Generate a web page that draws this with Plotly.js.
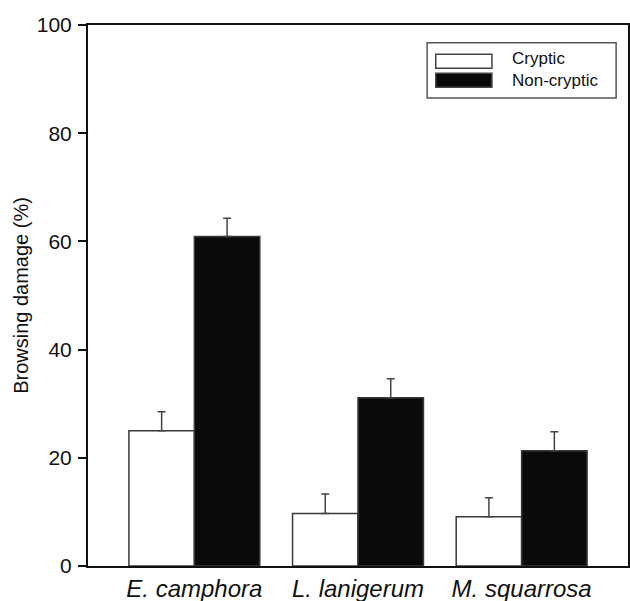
<!DOCTYPE html>
<html>
<head>
<meta charset="utf-8">
<script src="https://cdn.plot.ly/plotly-3.0.1.min.js"></script>
<style>html,body{margin:0;padding:0;background:#fff;}</style>
</head>
<body>
<div id="chart" style="width:630px;height:601px;"></div>
<script>
const species = ["E. camphora", "L. lanigerum", "M. squarrosa"];
const seriesNames = ["Cryptic", "Non-cryptic"];
const cryptic = [25.0, 9.7, 9.1];
const crypticErr = [3.5, 3.6, 3.5];
const nonCryptic = [60.9, 31.1, 21.3];
const nonCrypticErr = [3.4, 3.5, 3.5];
const yTicks = [0, 20, 40, 60, 80, 100];

const FONT = "Arial, 'Liberation Sans', sans-serif";
const zeros = [0, 0, 0];

const traces = [
  {
    type: "bar", name: seriesNames[0], x: species, y: cryptic,
    marker: {color: "#ffffff", line: {color: "#3a3a3a", width: 1.5}},
    error_y: {type: "data", symmetric: false, array: crypticErr, arrayminus: zeros,
              color: "#444", thickness: 1.5, width: 4},
    showlegend: false
  },
  {
    type: "bar", name: seriesNames[1], x: species, y: nonCryptic,
    marker: {color: "#0a0a0a", line: {color: "#3a3a3a", width: 1.5}},
    error_y: {type: "data", symmetric: false, array: nonCrypticErr, arrayminus: zeros,
              color: "#444", thickness: 1.5, width: 4},
    showlegend: false
  }
];

const legendShapes = [
  {type: "rect", xref: "paper", yref: "paper", x0: 0.628, x1: 0.978, y0: 0.865, y1: 0.967,
   line: {color: "#555", width: 1.5}, fillcolor: "rgba(0,0,0,0)"},
  {type: "rect", xref: "paper", yref: "paper", x0: 0.644, x1: 0.748, y0: 0.920, y1: 0.946,
   line: {color: "#444", width: 1.5}, fillcolor: "#ffffff"},
  {type: "rect", xref: "paper", yref: "paper", x0: 0.644, x1: 0.748, y0: 0.885, y1: 0.911,
   line: {color: "#444", width: 1.5}, fillcolor: "#0a0a0a"}
];
const legendTexts = [
  {xref: "paper", yref: "paper", x: 0.783, y: 0.9185, xanchor: "left", yanchor: "bottom",
   borderpad: 0, text: seriesNames[0], showarrow: false, font: {family: FONT, size: 17, color: "#111"}},
  {xref: "paper", yref: "paper", x: 0.783, y: 0.9165, xanchor: "left", yanchor: "top",
   borderpad: 0, text: seriesNames[1], showarrow: false, font: {family: FONT, size: 17, color: "#111"}}
];

const layout = {
  width: 630, height: 601,
  margin: {l: 88, r: 2, t: 25, b: 35, pad: 0},
  paper_bgcolor: "#ffffff", plot_bgcolor: "#ffffff",
  barmode: "group", bargap: 0.2, bargroupgap: 0,
  showlegend: false,
  font: {family: FONT, color: "#111"},
  xaxis: {
    type: "category", range: [-0.65, 2.65],
    showline: true, linecolor: "#111", linewidth: 2, mirror: true,
    ticks: "", showgrid: false, zeroline: false,
    tickfont: {family: FONT, size: 24, color: "#111", style: "italic"},
    ticklabelstandoff: 0
  },
  yaxis: {
    range: [0, 100], tickvals: yTicks,
    showline: true, linecolor: "#111", linewidth: 2, mirror: true,
    ticks: "outside", ticklen: 8, tickwidth: 2, tickcolor: "#111",
    showgrid: false, zeroline: false,
    tickfont: {family: FONT, size: 21, color: "#111"},
    ticklabelstandoff: 2,
    title: {text: "Browsing damage (%)", font: {family: FONT, size: 20, color: "#111"}, standoff: 3}
  },
  shapes: legendShapes,
  annotations: legendTexts
};

Plotly.newPlot("chart", traces, layout, {displayModeBar: false, staticPlot: true});
</script>
</body>
</html>
